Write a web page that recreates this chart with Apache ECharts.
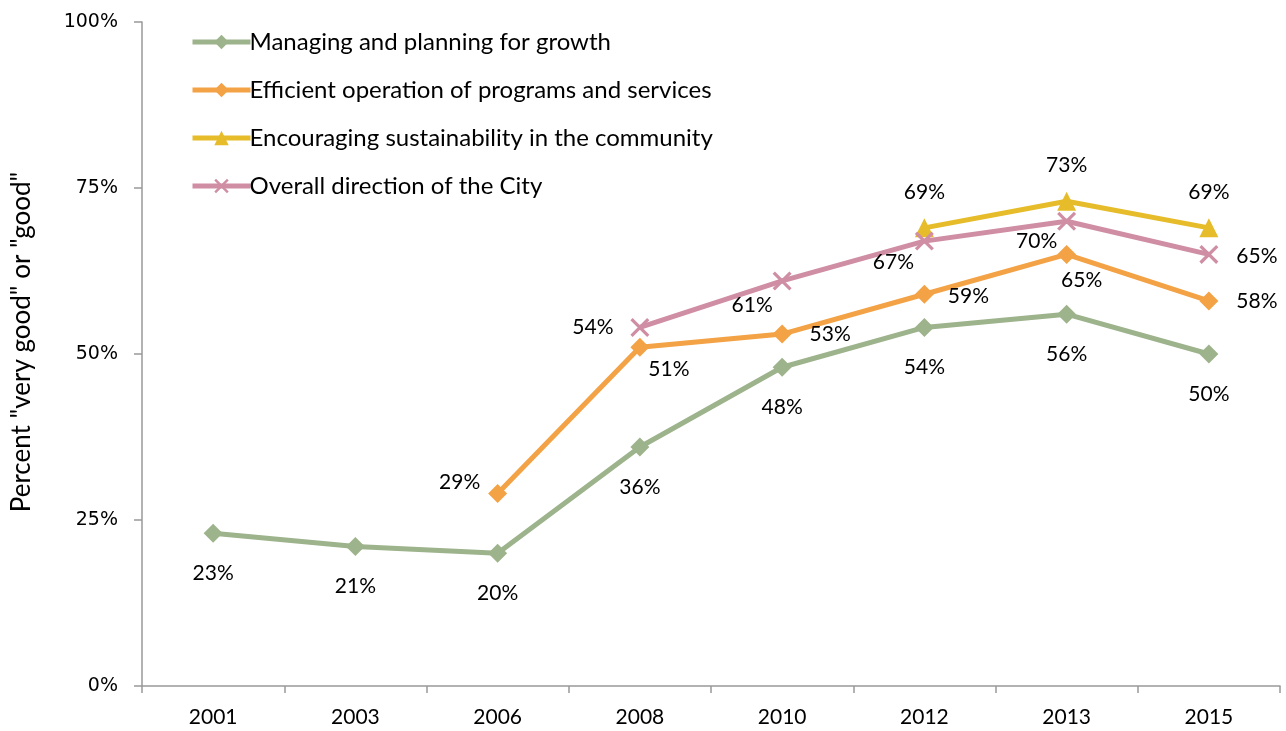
<!DOCTYPE html>
<html>
<head>
<meta charset="utf-8">
<script src="https://cdn.jsdelivr.net/npm/echarts@6/dist/echarts.min.js"></script>
<style>
  html, body { margin: 0; padding: 0; background: #fff; }
  #chart { width: 1286px; height: 731px; }
</style>
</head>
<body>
<div id="chart"></div>
<script>
// Survey years and ratings (percent "very good" or "good")
const years = ['2001', '2003', '2006', '2008', '2010', '2012', '2013', '2015'];
const managingGrowth = [23, 21, 20, 36, 48, 54, 56, 50];
const efficientOperation = [null, null, 29, 51, 53, 59, 65, 58];
const sustainability = [null, null, null, null, null, 69, 73, 69];
const overallDirection = [null, null, null, 54, 61, 67, 70, 65];
const yTicks = [0, 25, 50, 75, 100];

const seriesNames = [
  'Managing and planning for growth',
  'Efficient operation of programs and services',
  'Encouraging sustainability in the community',
  'Overall direction of the City'
];

// Label offsets (dx, dy) from each point, per series
const managingOffsets = years.map(() => [0, 40]);
const efficientOffsets = [null, null, [-38, -11], [29, 22], [48, 0], [44, 2], [15, 26], [48, 0]];
const sustainOffsets = [null, null, null, null, null, [0, -36], [0, -36], [0, -36]];
const overallOffsets = [null, null, null, [-47, 0], [-30, 24], [-31, 21], [-30, 20], [48, 2]];

const FONT = 'Lato, "Open Sans", sans-serif';

function withLabels(values, offsets) {
  return values.map((v, i) => v == null ? null : {
    value: v,
    label: { position: 'inside', offset: offsets[i] }
  });
}

const xShape = 'path://M0,1.2 L1.2,0 L10,8.8 L8.8,10 Z M8.8,0 L10,1.2 L1.2,10 L0,8.8 Z';

const labelStyle = {
  show: true,
  formatter: p => p.value + '%',
  color: '#000',
  fontSize: 21,
  fontFamily: FONT
};

function lineSeries(idx, values, offsets, color, symbol) {
  return {
    name: seriesNames[idx], type: 'line',
    data: withLabels(values, offsets),
    symbol: symbol, symbolSize: 19,
    lineStyle: { width: 5, color: color },
    itemStyle: { color: color },
    label: labelStyle
  };
}

const chart = echarts.init(document.getElementById('chart'));
chart.setOption({
  animation: false,
  backgroundColor: '#fff',
  grid: { left: 142, right: 6, top: 22, bottom: 45, containLabel: false },
  legend: {
    orient: 'vertical',
    left: 185,
    top: 25,
    itemWidth: 58,
    itemHeight: 18,
    itemGap: 24,
    itemStyle: { borderWidth: 0 },
    lineStyle: { width: 5 },
    textStyle: { fontSize: 24, fontFamily: FONT, color: '#000', padding: [0, 0, 0, -6] },
    data: seriesNames
  },
  xAxis: {
    type: 'category',
    data: years,
    boundaryGap: true,
    axisLine: { lineStyle: { color: '#999', width: 1.5 } },
    axisTick: { show: true, length: 7, lineStyle: { color: '#999', width: 1.5 } },
    axisLabel: { fontSize: 21, fontFamily: FONT, color: '#000', margin: 21 }
  },
  yAxis: {
    type: 'value',
    min: 0,
    max: 100,
    interval: 25,
    name: 'Percent "very good" or "good"',
    nameLocation: 'middle',
    nameGap: 107,
    nameTextStyle: { fontSize: 26, fontFamily: FONT, color: '#000', padding: [0, 0, 0, 24] },
    axisLine: { show: true, lineStyle: { color: '#999', width: 1.5 } },
    axisTick: { show: true, length: 8, lineStyle: { color: '#999', width: 1.5 } },
    splitLine: { show: false },
    axisLabel: {
      fontSize: 19, fontFamily: '"DejaVu Sans", sans-serif', color: '#000', margin: 24,
      formatter: v => yTicks.includes(v) ? v + '%' : ''
    }
  },
  series: [
    lineSeries(0, managingGrowth, managingOffsets, '#9DB38C', 'diamond'),
    lineSeries(1, efficientOperation, efficientOffsets, '#F3A245', 'diamond'),
    lineSeries(2, sustainability, sustainOffsets, '#E6BC2A', 'triangle'),
    lineSeries(3, overallDirection, overallOffsets, '#CF8EA4', xShape)
  ]
});
</script>
</body>
</html>
